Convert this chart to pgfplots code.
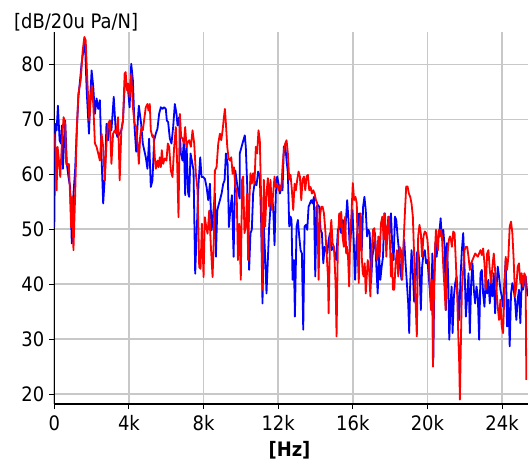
\documentclass[border=0pt]{standalone}
\usepackage{pgfplots}
\pgfplotsset{compat=1.18}
\usepackage{fontspec}
\setmainfont{DejaVu Sans Condensed}
\definecolor{gridgray}{RGB}{200,200,200}
\definecolor{pblue}{RGB}{0,0,255}
\definecolor{pred}{RGB}{255,0,0}
\begin{document}
\begin{tikzpicture}
\begin{axis}[
  scale only axis, width=473.7bp, height=372bp,
  xmin=0, xmax=25390, ymin=18.2, ymax=85.9,
  axis x line*=bottom, axis y line*=left,
  xtick={0,4000,8000,12000,16000,20000,24000},
  xticklabels={0,4k,8k,12k,16k,20k,24k},
  ytick={20,30,40,50,60,70,80},
  scaled x ticks=false,
  grid=major, major grid style={color=gridgray, line width=1.6bp},
  tick align=outside, major tick length=5bp,
  tick style={black, line width=0.9bp},
  axis line style={black, line width=1.4bp},
  tick label style={font=\fontsize{20}{24}\selectfont},
  xticklabel style={yshift=-3bp},
  yticklabel style={xshift=-1.5bp},
  /pgf/number format/assume math mode=true,
  clip=true,
]
\addplot[pblue, line width=1.8bp, line join=round] coordinates {
(0,50.4)(53,69.2)(124,68.0)(195,72.5)(283,66.2)(354,65.6)(407,68.9)(460,61.0)(531,66.2)(584,69.8)
(673,61.9)(761,59.5)(850,57.7)(938,47.4)(1027,56.5)(1115,60.7)(1204,68.0)(1292,74.1)(1381,77.1)(1469,80.4)
(1558,82.5)(1646,83.8)(1735,75.3)(1859,67.4)(1929,74.1)(2000,78.9)(2089,75.9)(2177,71.0)(2266,73.8)(2354,71.9)
(2443,73.5)(2531,63.2)(2620,54.7)(2708,59.5)(2797,69.2)(2885,66.2)(2974,69.8)(3062,68.0)(3186,74.1)(3292,68.0)
(3381,66.8)(3505,67.4)(3593,68.0)(3682,69.8)(3770,75.9)(3859,76.5)(3947,75.6)(4036,72.2)(4124,80.1)(4213,77.1)
(4301,68.6)(4390,64.1)(4478,69.8)(4531,72.5)(4655,69.2)(4744,65.6)
(4903,63.1)(4993,61.0)(5082,66.5)(5172,57.7)(5261,58.9)(5351,66.2)(5440,67.4)(5530,68.3)(5619,71.0)(5709,72.2)
(5798,71.9)(5888,72.2)(5977,71.9)(6031,69.8)(6102,69.5)(6192,66.5)(6281,65.6)(6371,68.6)(6460,72.8)(6550,71.0)
(6604,68.9)(6693,70.4)(6783,63.8)(6872,62.5)(6944,66.2)(7015,56.2)(7087,65.6)(7176,56.5)(7230,55.9)(7302,63.8)
(7373,62.5)(7463,60.7)(7552,41.9)(7642,50.4)(7731,58.3)(7821,63.1)(7892,59.5)(7982,59.5)(8071,59.2)(8161,57.7)
(8250,55.3)(8340,58.3)(8429,49.8)(8519,52.8)(8608,56.5)(8662,45.0)(8734,53.4)(8805,54.4)(8877,55.3)(8966,56.5)
(9056,58.3)(9127,58.9)(9199,63.8)(9289,61.9)(9360,50.4)(9432,53.4)(9521,56.2)(9611,45.0)(9700,60.7)(9772,58.9)
(9843,57.1)(9933,55.6)
(9942,63.8)(10085,65.6)(10211,67.1)(10264,65.0)(10336,58.3)(10443,42.6)(10515,49.3)(10586,49.9)(10658,56.5)(10748,58.7)
(10837,58.0)(10927,60.5)(11016,59.6)(11088,51.1)(11159,36.5)(11231,50.5)(11302,45.0)(11374,38.3)(11446,44.4)(11517,50.5)
(11589,54.1)(11660,55.9)(11732,54.1)(11804,47.1)(11875,56.5)(11947,59.6)(12018,58.3)(12090,56.5)(12162,57.4)(12233,57.1)
(12305,65.0)(12376,65.3)(12448,62.6)(12520,60.2)(12591,50.5)(12663,52.3)(12716,51.7)(12770,40.8)(12842,44.4)(12896,34.1)
(12985,50.5)(13057,51.7)(13128,48.7)(13200,46.2)(13271,45.6)(13343,31.7)(13415,50.5)(13486,50.8)(13558,49.9)(13629,54.1)
(13701,54.7)(13773,55.3)(13844,54.7)(13916,55.9)(13987,41.4)(14059,54.1)(14131,54.4)(14202,54.1)(14274,49.9)(14345,49.3)
(14417,43.8)(14489,46.8)(14560,46.2)(14632,45.6)(14703,48.0)(14775,49.3)(14865,46.2)(14954,46.8)
(15111,44.4)(15200,49.9)(15289,50.5)(15378,49.3)(15467,51.7)(15555,48.1)(15644,52.3)(15698,55.3)(15769,51.7)(15840,46.2)
(15911,49.9)(15982,53.5)(16053,47.5)(16124,40.8)(16195,47.5)(16267,50.5)(16338,52.9)(16409,50.5)(16480,46.2)(16551,54.1)
(16622,55.9)(16693,53.5)(16764,48.7)(16836,49.9)(16907,49.3)(16978,40.2)(17049,45.0)(17120,46.8)(17191,49.3)(17262,43.2)
(17333,38.3)(17405,45.6)(17476,40.8)(17547,43.2)(17618,45.0)(17689,52.9)(17760,49.9)(17831,47.5)(17902,52.3)(17973,49.3)
(18045,52.9)(18116,46.8)(18187,44.4)(18258,52.3)(18329,51.7)(18400,48.7)(18471,46.2)(18542,42.6)(18614,40.8)(18685,45.0)
(18756,48.1)(18827,43.8)(18898,40.2)(18969,36.5)(19023,31.1)(19076,40.2)(19147,46.2)(19218,42.0)(19289,36.8)(19360,40.2)
(19431,45.6)(19503,46.2)(19574,43.8)(19645,35.3)(19716,43.2)(19787,45.6)(19858,46.2)(19929,43.8)(20000,44.4)(20072,41.4)
(20208,35.3)(20262,45.6)(20315,26.2)(20368,40.2)(20422,47.5)(20493,45.0)(20564,48.1)(20635,49.3)(20707,52.0)(20778,48.1)
(20849,49.9)(20920,46.8)(20991,35.3)(21045,47.5)(21116,40.8)(21169,29.9)(21241,36.5)(21294,39.6)(21347,31.1)(21419,37.8)
(21490,40.2)(21561,41.4)(21632,37.8)(21703,33.5)(21775,41.4)(21846,46.2)(21917,49.3)(21988,43.2)(22059,34.1)(22131,37.8)
(22202,42.0)(22273,31.1)(22344,40.2)(22415,43.8)(22487,39.0)(22558,36.5)(22629,39.6)(22700,37.8)(22771,29.9)(22843,42.0)
(22914,42.6)(22985,38.3)(23056,35.9)(23127,41.4)(23199,38.3)(23270,40.8)(23341,36.5)(23412,40.2)(23483,37.8)(23555,42.0)
(23626,34.7)(23697,39.0)(23768,43.2)(23839,41.4)(23911,39.0)(23982,37.8)(24053,35.9)(24124,40.2)(24195,44.4)(24267,32.3)
(24338,37.2)(24409,28.7)(24480,38.3)(24551,40.2)(24623,39.0)(24694,37.2)(24765,33.5)(24836,37.2)(24907,39.0)(24979,32.9)
(25050,40.2)(25121,39.0)(25192,40.2)(25263,41.4)(25334,39.0)(25370,37.8)
};
\addplot[pred, line width=1.8bp, line join=round] coordinates {
(0,67.4)(71,64.4)(124,57.1)(177,65.0)(230,63.2)(319,59.5)(407,65.6)(496,70.4)(584,69.2)(637,61.9)
(708,61.6)(779,61.9)(850,55.9)(903,50.4)(956,55.9)(1027,46.2)(1115,55.9)(1204,68.0)(1292,74.7)(1416,77.1)
(1522,82.5)(1611,85.0)(1682,84.4)(1770,77.1)(1876,69.8)(2000,76.2)(2089,72.8)(2177,65.6)(2266,65.0)(2354,63.8)
(2443,62.5)(2531,67.4)(2620,65.0)(2708,58.9)(2797,65.6)(2885,69.2)(2974,69.8)(3062,61.9)(3150,67.4)(3239,68.0)
(3327,67.4)(3416,70.4)(3505,58.9)(3593,68.0)(3682,69.8)(3770,78.3)(3823,78.6)(3894,75.3)(3965,76.5)(4036,74.1)
(4124,78.3)(4213,72.2)(4301,69.2)(4390,68.6)(4478,65.0)(4531,61.9)(4602,66.8)(4673,68.6)(4744,68.0)
(4903,72.2)(4993,72.8)(5046,71.6)(5118,72.8)(5172,68.0)(5261,66.8)(5315,67.1)(5386,63.1)(5440,61.0)(5530,62.5)
(5583,61.3)(5655,63.1)(5709,61.3)(5762,64.4)(5834,61.9)(5923,62.9)(6013,62.5)(6084,65.6)(6156,65.0)(6246,60.7)
(6335,59.5)(6425,65.0)(6514,68.6)(6586,61.9)(6657,52.2)(6729,71.0)(6800,66.8)(6872,66.5)(6944,65.6)(7015,68.6)
(7087,65.0)(7158,65.9)(7230,66.2)(7320,65.0)(7409,68.0)(7499,65.6)(7588,60.1)(7678,57.1)(7767,43.1)(7839,42.8)
(7910,51.0)(8000,41.3)(8071,52.2)(8143,50.4)(8215,49.2)(8304,53.4)(8394,46.8)(8483,41.3)(8555,48.6)(8608,60.7)
(8698,61.3)(8787,65.6)(8877,67.4)(8948,66.2)(9020,68.0)(9092,70.4)(9145,71.9)(9199,69.2)(9271,65.0)(9342,62.9)
(9414,62.5)(9485,63.1)(9557,60.1)(9629,61.3)(9700,57.7)(9772,57.1)(9843,44.4)(9915,51.0)
(9942,48.0)(9996,40.8)(10067,59.0)(10121,59.6)(10193,49.3)(10264,50.5)(10336,56.5)(10390,44.4)(10443,54.1)(10515,60.2)
(10586,58.3)(10658,60.2)(10730,58.3)(10801,65.0)(10873,63.8)(10944,68.0)(11016,66.2)(11088,55.3)(11159,39.0)(11231,59.0)
(11302,50.5)(11374,56.5)(11446,59.3)(11517,54.1)(11589,59.0)(11660,53.5)(11732,56.5)(11804,59.6)(11875,57.7)(11947,58.3)
(12018,57.1)(12090,58.0)(12162,57.1)(12233,61.4)(12305,64.4)(12376,65.6)(12448,66.2)(12520,63.8)(12591,59.0)(12663,59.9)
(12734,57.1)(12806,53.5)(12878,58.3)(12949,57.1)(13021,59.0)(13092,60.5)(13164,59.6)(13236,55.3)(13307,59.0)(13379,59.6)
(13450,57.1)(13522,59.6)(13594,59.9)(13665,57.1)(13737,57.7)(13808,56.5)(13880,57.1)(13952,56.5)(14023,55.3)(14095,54.7)
(14166,40.8)(14238,52.3)(14310,54.1)(14381,54.1)(14453,52.9)(14524,49.9)(14596,45.6)(14668,41.4)(14703,34.7)(14775,48.0)
(14847,51.7)(14918,47.4)(14990,46.8)
(15075,40.2)(15129,30.5)(15200,47.5)(15271,52.9)(15324,50.5)(15378,53.2)(15449,48.7)(15520,46.8)(15591,52.3)(15644,45.6)
(15698,46.8)(15751,44.4)(15804,39.6)(15858,48.7)(15929,52.9)(16000,58.4)(16071,55.3)(16142,55.9)(16213,54.7)(16267,45.0)
(16320,40.2)(16373,50.5)(16427,52.9)(16480,45.0)(16533,42.0)(16587,41.4)(16640,43.8)(16693,38.3)(16747,41.4)(16800,44.4)
(16871,42.6)(16942,37.8)(17013,46.2)(17084,49.9)(17156,50.2)(17227,46.2)(17298,44.4)(17369,48.7)(17440,45.0)(17511,51.1)
(17582,52.3)(17653,48.1)(17725,52.9)(17796,45.0)(17867,50.5)(17938,52.3)(17991,47.5)(18045,41.4)(18098,45.6)(18151,39.0)
(18222,39.0)(18294,43.8)(18365,46.2)(18436,41.4)(18507,46.8)(18578,46.2)(18649,40.8)(18720,47.5)(18791,52.9)(18862,57.8)
(18934,57.8)(19005,56.5)(19076,55.9)(19147,54.7)(19218,52.3)(19289,45.0)(19360,37.2)(19431,30.5)(19503,48.7)(19574,50.8)
(19645,49.3)(19716,45.0)(19787,48.7)(19858,49.6)(19929,49.3)(20000,48.1)(20072,44.4)
(20190,35.3)(20244,40.8)(20297,25.0)(20351,39.0)(20404,46.2)(20457,49.9)(20511,48.1)(20564,46.2)(20618,49.9)(20671,48.7)
(20724,49.9)(20778,48.7)(20849,43.2)(20920,39.0)(20974,35.3)(21027,43.2)(21098,46.2)(21152,48.1)(21205,48.7)(21258,48.1)
(21312,46.8)(21383,49.6)(21454,49.3)(21525,43.8)(21597,37.8)(21650,31.1)(21703,25.6)(21739,19.0)(21792,29.2)(21846,39.0)
(21917,42.6)(21988,46.2)(22059,46.8)(22131,46.8)(22202,45.0)(22273,42.6)(22344,43.8)(22415,44.4)(22487,45.0)(22558,45.6)
(22629,45.3)(22700,45.0)(22771,45.6)(22843,46.2)(22914,45.3)(22985,46.5)(23056,43.8)(23127,39.0)(23199,45.6)(23270,46.2)
(23341,42.6)(23412,40.2)(23483,43.2)(23555,45.6)(23626,42.6)(23697,39.0)(23768,35.9)(23839,33.5)(23911,37.2)(23982,32.3)
(24053,31.1)(24124,38.3)(24195,45.0)(24267,42.6)(24338,45.0)(24409,50.5)(24480,51.4)(24551,49.3)(24623,44.4)(24694,37.8)
(24765,39.6)(24836,43.2)(24907,43.8)(24979,40.2)(25050,42.0)(25121,39.6)(25192,42.0)(25263,41.4)(25299,22.6)
};
\end{axis}
\node[anchor=base west, inner sep=0pt, font=\fontsize{20}{24}\selectfont] at ([xshift=-40.3bp, yshift=3.5bp]current axis.north west) {[dB/20u Pa/N]};
\node[anchor=base, inner sep=0pt, font=\fontsize{20}{24}\bfseries] at ([xshift=235.2bp, yshift=-52bp]current axis.south west) {[Hz]};
\pgfresetboundingbox
\path (current axis.south west) ++(-54.3bp,-59bp) rectangle ++(528bp,463bp);
\end{tikzpicture}
\end{document}
